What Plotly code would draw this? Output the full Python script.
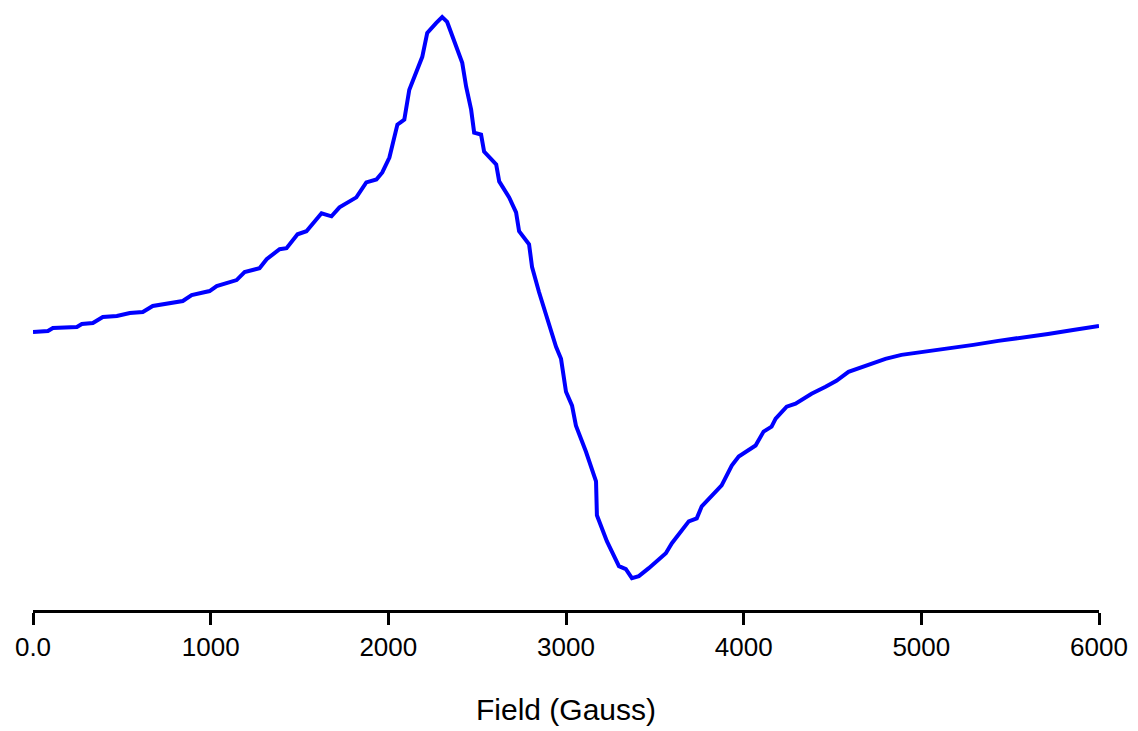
import plotly.graph_objects as go

# EPR spectrum: magnetic field (Gauss) vs. derivative signal (arbitrary units)
field_gauss = [
    0, 84, 112, 247, 275, 337, 393, 472, 545, 618, 674, 753, 843, 893, 994,
    1034, 1146, 1191, 1275, 1315, 1388, 1427, 1489, 1539, 1624, 1680, 1725,
    1820, 1876, 1933, 1966, 2006, 2022, 2051, 2090, 2118, 2191, 2219, 2270,
    2303, 2331, 2360, 2416, 2438, 2466, 2483, 2522, 2539, 2607, 2624, 2680,
    2719, 2736, 2792, 2809, 2848, 2888, 2916, 2944, 2972, 3000, 3034, 3056,
    3112, 3169, 3174, 3230, 3298, 3337, 3371, 3410, 3466, 3562, 3596, 3691,
    3736, 3764, 3876, 3933, 3972, 4067, 4112, 4157, 4180, 4242, 4292, 4382,
    4461, 4522, 4590, 4702, 4798, 4888, 5011, 5152, 5293, 5433, 5573, 5713,
    5854, 5994, 6000,
]
signal_au = [
    0.2, 0.3, 0.6, 0.7, 1.0, 1.1, 1.7, 1.8, 2.1, 2.2, 2.8, 3.0, 3.3, 3.9, 4.3,
    4.8, 5.4, 6.2, 6.6, 7.5, 8.5, 8.6, 10.0, 10.3, 12.1, 11.8, 12.7,
    13.7, 15.2, 15.5, 16.2, 17.7, 18.8, 21.0, 21.5, 24.5, 27.8, 30.2, 31.2,
    31.8, 31.3, 29.8, 27.2, 24.8, 22.5, 20.2, 20.0, 18.3, 17.0, 15.3, 13.7,
    12.2, 10.3, 9.0, 6.7, 4.2, 1.8, 0.2, -1.3, -2.5, -5.8, -7.2, -9.2,
    -11.8, -14.8, -18.2, -20.8, -23.3, -23.6, -24.5, -24.3, -23.5, -22.0, -21.0, -18.8,
    -18.5, -17.3, -15.2, -13.2, -12.3, -11.2, -9.8, -9.3, -8.5, -7.3, -7.0, -6.0,
    -5.3, -4.7, -3.8, -3.1, -2.5, -2.1, -1.8, -1.5, -1.1, -0.7, -0.4, 0.0,
    0.4, 0.7, 0.8,
]
tick_values = [0, 1000, 2000, 3000, 4000, 5000, 6000]
tick_labels = ["0.0", "1000", "2000", "3000", "4000", "5000", "6000"]

fig = go.Figure(
    go.Scatter(
        x=field_gauss,
        y=signal_au,
        mode="lines",
        line=dict(color="#0000ff", width=4),
        showlegend=False,
        hoverinfo="skip",
    )
)

fig.update_layout(
    width=1138,
    height=731,
    margin=dict(l=33, r=37, t=10, b=119),
    paper_bgcolor="white",
    plot_bgcolor="white",
    font=dict(family="Liberation Sans, Arial, sans-serif", color="black"),
)

fig.update_xaxes(
    range=[0, 6000],
    showgrid=False,
    zeroline=False,
    showline=True,
    linecolor="black",
    linewidth=3,
    ticks="outside",
    ticklen=12,
    tickwidth=3,
    tickcolor="black",
    tickvals=tick_values,
    ticktext=tick_labels,
    tickfont=dict(size=26),
    title=dict(text="Field (Gauss)", font=dict(size=30), standoff=38),
)
fig.update_yaxes(range=[-27.7, 32.5], visible=False)

fig.write_html("out.html")
